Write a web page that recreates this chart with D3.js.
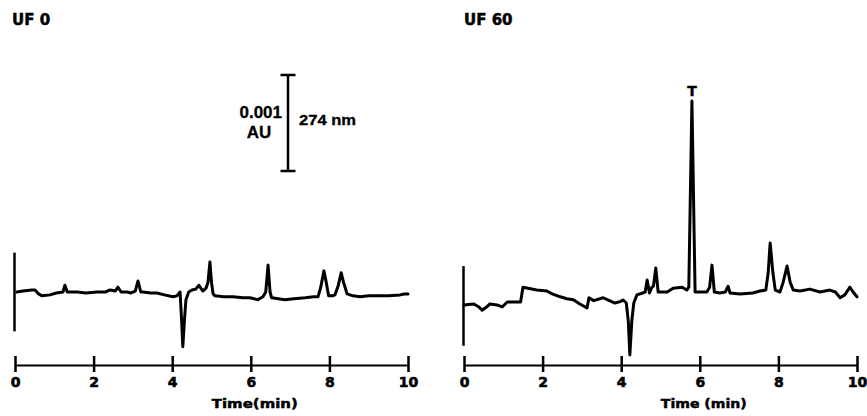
<!DOCTYPE html>
<html>
<head>
<meta charset="utf-8">
<script src="https://cdn.jsdelivr.net/npm/d3@7"></script>
<style>
  html, body { margin: 0; padding: 0; background: #fff; }
  svg { display: block; }
  text { fill: #000; }
</style>
</head>
<body>
<svg id="chart" width="867" height="416"></svg>
<script>
// ---- data (absorbance in mAU vs time in min) ----
const panelTitles = ["UF 0", "UF 60"];
const axisTitles = ["Time(min)", "Time (min)"];
const timeTicks = [0, 2, 4, 6, 8, 10];
const tickLabels = ["0", "2", "4", "6", "8", "10"];

const uf0Time = [0.05,0.2,0.43,0.51,0.6,0.69,0.89,1.05,1.22,1.27,1.33,1.58,1.8,2.09,2.3,2.42,2.55,2.62,2.7,2.85,2.95,3.06,3.13,3.2,3.26,3.45,3.61,3.8,4.02,4.12,4.2,4.24,4.27,4.31,4.35,4.42,4.5,4.6,4.68,4.78,4.86,4.91,4.96,5.0,5.04,5.09,5.3,5.55,5.8,5.98,6.18,6.31,6.38,6.44,6.49,6.53,6.7,6.87,7.1,7.38,7.6,7.71,7.78,7.86,7.92,7.98,8.08,8.14,8.22,8.3,8.36,8.45,8.6,8.78,9.0,9.29,9.5,9.8,9.9,10.0];
const uf0Abs  = [0,0.01,0.021,0.021,-0.02,-0.04,-0.03,-0.01,0,0.07,0,0,-0.01,0,0,0.021,0.01,0.05,0,0,-0.01,0.01,0.115,0,0,-0.01,-0.01,-0.03,-0.05,-0.04,0,-0.3,-0.57,-0.3,-0.08,0,0.02,0.03,0.07,0.01,0.04,0.1,0.3125,0.1,-0.02,-0.04,-0.05,-0.05,-0.06,-0.06,-0.08,-0.05,0,0.28,0,-0.06,-0.07,-0.08,-0.07,-0.06,-0.05,-0.05,0.05,0.22,0.1,-0.04,-0.04,-0.03,0.06,0.2,0.1,-0.02,-0.04,-0.05,-0.04,-0.04,-0.04,-0.03,-0.02,-0.02];

const uf60Time = [0.0,0.25,0.38,0.46,0.54,0.66,0.84,0.97,1.1,1.17,1.37,1.44,1.5,1.6,1.85,2.11,2.24,2.45,2.62,2.78,2.95,3.13,3.18,3.3,3.54,3.7,3.84,3.97,4.05,4.13,4.18,4.22,4.27,4.32,4.4,4.55,4.61,4.66,4.72,4.78,4.82,4.88,4.94,5.17,5.32,5.55,5.67,5.72,5.8,5.88,6.0,6.18,6.25,6.31,6.37,6.51,6.65,6.72,6.77,7.02,7.35,7.53,7.68,7.74,7.79,7.86,7.92,8.04,8.12,8.22,8.3,8.38,8.55,8.8,9.06,9.31,9.45,9.57,9.69,9.82,9.9,10.0];
const uf60Abs  = [-0.135,-0.125,-0.156,-0.19,-0.167,-0.125,-0.135,-0.156,-0.104,-0.104,-0.104,-0.104,0.05,0.042,0.02,0.01,-0.02,-0.05,-0.07,-0.08,-0.125,-0.167,-0.06,-0.09,-0.06,-0.09,-0.115,-0.1,-0.083,-0.115,-0.3,-0.656,-0.3,-0.115,-0.03,-0.01,0,0.125,-0.01,0.05,0.06,0.25,0,0,0.04,0.05,0.02,0.05,1.99,0,0,0,0.05,0.28,0,-0.01,0,0.06,-0.01,-0.02,-0.01,0.01,0.02,0.2,0.51,0.2,0.02,0,0.1,0.27,0.1,0.02,0.01,0.03,0,0.02,0,-0.06,-0.03,0.05,0,-0.05];

// start (injection) marks, mAU extent
const startMarkUF0 = [0.41, -0.41];
const startMarkUF60 = [0.27, -0.56];

// scale bar
const scaleBarValue = 1;          // mAU
const scaleBarLabel = ["0.001", "AU"];
const wavelengthLabel = "274 nm";
const peakLabel = "T";
const peakLabelTime = 5.8;
const peakLabelAbs = 1.99;

// ---- drawing ----
const svg = d3.select("#chart");
const y = d3.scaleLinear().domain([0, 1]).range([292, 196]);
const xL = d3.scaleLinear().domain([0, 10]).range([15, 408]);
const xR = d3.scaleLinear().domain([0, 10]).range([464, 857]);
const axisY = 365;

const panels = [
  {x: xL, t: uf0Time, v: uf0Abs, mark: startMarkUF0, title: panelTitles[0], axisTitle: axisTitles[0], titleX: 12},
  {x: xR, t: uf60Time, v: uf60Abs, mark: startMarkUF60, title: panelTitles[1], axisTitle: axisTitles[1], titleX: 464}
];

panels.forEach(p => {
  const g = svg.append("g");
  // title
  g.append("text")
    .attr("x", p.titleX).attr("y", 25)
    .attr("font-family", "DejaVu Sans").attr("font-weight", "bold")
    .attr("font-size", 15)
    .attr("stroke", "#000").attr("stroke-width", 0.5)
    .text(p.title);

  // start mark
  g.append("line")
    .attr("x1", p.x(0) - 0.5).attr("x2", p.x(0) - 0.5)
    .attr("y1", y(p.mark[0])).attr("y2", y(p.mark[1]))
    .attr("stroke", "#000").attr("stroke-width", 2.5);

  // trace
  const pts = p.t.map((t, i) => [t, p.v[i]]);
  const line = d3.line().x(d => p.x(d[0])).y(d => y(d[1])).curve(d3.curveLinear);
  g.append("path")
    .datum(pts)
    .attr("d", line)
    .attr("fill", "none")
    .attr("stroke", "#000")
    .attr("stroke-width", 3)
    .attr("stroke-linejoin", "round")
    .attr("stroke-linecap", "round");

  // axis
  const ax = d3.axisBottom(p.x)
    .tickValues(timeTicks)
    .tickFormat((d, i) => tickLabels[i])
    .tickSize(7).tickSizeOuter(0).tickPadding(5);
  const ag = g.append("g").attr("transform", `translate(0,${axisY})`).call(ax);
  ag.select(".domain").attr("stroke", "#000").attr("stroke-width", 2);
  ag.selectAll(".tick line").attr("y1", -9).attr("stroke", "#000").attr("stroke-width", 2.5);
  ag.selectAll(".tick text")
    .attr("font-family", "DejaVu Sans").attr("font-weight", "bold")
    .attr("font-size", 14).attr("fill", "#000")
    .attr("stroke", "#000").attr("stroke-width", 0.6);

  g.append("text")
    .attr("x", p.x(6) + 4).attr("y", 408)
    .attr("text-anchor", "middle")
    .attr("font-family", "DejaVu Sans").attr("font-weight", "bold")
    .attr("font-size", 13)
    .attr("textLength", 86).attr("lengthAdjust", "spacingAndGlyphs")
    .attr("stroke", "#000").attr("stroke-width", 0.5)
    .text(p.axisTitle);
});

// scale bar (left panel)
const sbX = 288, sbTop = 75;
const sbLen = y(0) - y(scaleBarValue);
const sb = svg.append("g");
sb.append("line").attr("x1", sbX).attr("x2", sbX).attr("y1", sbTop).attr("y2", sbTop + sbLen)
  .attr("stroke", "#000").attr("stroke-width", 2.5);
[sbTop, sbTop + sbLen].forEach(yy => {
  sb.append("line").attr("x1", sbX - 7.5).attr("x2", sbX + 7.5).attr("y1", yy).attr("y2", yy)
    .attr("stroke", "#000").attr("stroke-width", 2.5);
});
sb.append("text").attr("x", 282).attr("y", 118).attr("text-anchor", "end")
  .attr("font-family", "Liberation Sans").attr("font-weight", "bold").attr("font-size", 17)
  .attr("stroke", "#000").attr("stroke-width", 0.3)
  .text(scaleBarLabel[0]);
sb.append("text").attr("x", 259).attr("y", 138).attr("text-anchor", "middle")
  .attr("font-family", "Liberation Sans").attr("font-weight", "bold").attr("font-size", 17)
  .attr("stroke", "#000").attr("stroke-width", 0.3)
  .text(scaleBarLabel[1]);
sb.append("text").attr("x", 299).attr("y", 125)
  .attr("font-family", "Liberation Sans").attr("font-weight", "bold").attr("font-size", 14)
  .attr("textLength", 57).attr("lengthAdjust", "spacingAndGlyphs")
  .attr("stroke", "#000").attr("stroke-width", 0.3)
  .text(wavelengthLabel);

// peak label
svg.append("text")
  .attr("x", xR(peakLabelTime)).attr("y", y(peakLabelAbs) - 5)
  .attr("text-anchor", "middle")
  .attr("font-family", "DejaVu Sans").attr("font-weight", "bold").attr("font-size", 14)
  .attr("stroke", "#000").attr("stroke-width", 0.4)
  .text(peakLabel);
</script>
</body>
</html>
